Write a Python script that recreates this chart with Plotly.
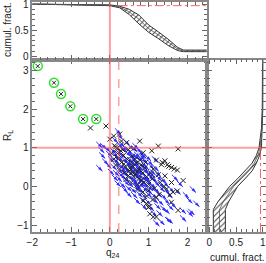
import plotly.graph_objects as go

W, H = 266, 263

# ---------------- data ----------------
# green-circled sources (q24, R_L)
green_x = [-1.86, -1.44, -1.26, -1.02, -0.69, -0.35]
green_y = [3.11, 2.68, 2.39, 2.07, 1.74, 1.74]

# black crosses (q24, R_L)
black_x = [-0.50, -0.10, 0.00, 0.10, 0.25, 0.30, 0.43, 0.77, 1.25, 1.76, 1.08, 0.86,
           1.20, 1.42, 1.48, 1.59, 1.74, 1.33, 1.89, 1.59, 1.46, 1.74, 1.27, 0.86,
           0.94, 1.03, 1.20, 1.55, 1.76, 1.03, 1.20, 1.42, 1.40, 1.63, 1.59, 0.99,
           1.12, 0.20, 0.35, 0.45, 0.55, 0.65, 0.30, 0.40, 0.50, 0.60, 0.70, 0.80,
           0.75, 0.85, 0.95, 0.62, 0.55, 0.72, 0.88, 1.00, 1.10, 0.48, 0.38, 0.25,
           0.15, 0.10, 0.05, 0.68, 0.90, 1.05, 1.00, 0.85, 0.70, 1.15, 0.58, 0.78,
           0.92, 0.33, 0.48, 0.62, 0.12, 1.25, 1.12, 0.95, 1.10, 0.18, 0.22, 0.52,
           0.66, 0.74, 0.82, 0.58, 0.42, 0.36, 1.35, 1.52, 1.66, 1.30, 0.15, 0.28]
black_y = [1.51, 1.56, 1.22, 1.30, 1.35, 1.17, 1.13, 1.17, 1.04, 0.97, 0.92, 0.87,
           0.68, 0.66, 0.56, 0.49, 0.42, 0.56, 0.15, 0.10, -0.07, -0.12, -0.21, -0.37,
           -0.45, -0.52, -0.28, -0.22, -0.62, -0.71, -0.79, 0.27, 0.00, -0.15, -0.41, -0.54,
           -0.79, 0.85, 0.80, 0.70, 0.62, 0.70, 0.62, 0.50, 0.40, 0.52, 0.38, 0.55,
           0.20, 0.35, 0.25, 0.25, 0.10, 0.05, 0.10, 0.05, 0.20, 0.28, 0.35, 0.45,
           0.55, 0.70, 0.85, 0.60, 0.48, 0.35, -0.10, -0.15, -0.08, -0.05, 0.78, 0.68,
           0.62, 0.95, 0.95, 0.98, 1.05, 0.30, 0.45, -0.25, -0.35, 0.98, 0.72, 0.48,
           0.32, 0.44, 0.16, 0.36, 0.18, 0.58, 0.62, 0.52, 0.45, 0.10, 1.02, 0.92]

# blue upper-limit arrows (q24, R_L) of the arrow tails
blue_x = [0.13, 0.17, 0.05, -0.35, -0.25, 0.22, 0.35, 0.45, -0.30, -0.15, 0.00, 0.10,
          0.28, 0.55, -0.28, -0.10, 0.05, 0.15, 0.25, 0.38, 0.48, 0.62, 0.72, -0.20,
          -0.05, 0.08, 0.18, 0.30, 0.40, 0.52, 0.60, 0.70, 0.82, 0.95, -0.35, -0.12,
          0.02, 0.12, 0.22, 0.33, 0.42, 0.50, 0.58, 0.66, 0.75, 0.85, 0.98, 1.10,
          -0.05, 0.08, 0.18, 0.28, 0.36, 0.45, 0.52, 0.60, 0.68, 0.76, 0.84, 0.92,
          1.02, 1.15, 0.05, 0.15, 0.25, 0.35, 0.44, 0.53, 0.62, 0.70, 0.78, 0.88,
          0.97, 1.06, 1.18, 1.30, 0.12, 0.24, 0.34, 0.45, 0.55, 0.64, 0.74, 0.83,
          0.92, 1.02, 1.12, 1.24, 1.36, 0.30, 0.40, 0.52, 0.62, 0.72, 0.82, 0.92,
          1.02, 1.12, 1.25, 1.38, 1.50, 2.06, 0.40, 0.55, 0.68, 0.80, 0.92, 1.05,
          1.18, 1.30, 1.45, 0.62, 0.76, 0.90, 1.08, 1.22, 1.38, 1.97, 2.15, 0.80,
          0.98, 1.15, 1.30, 1.48, 1.05, 1.20, 1.38, 1.80, 1.98, 2.02, 1.12, 1.46,
          1.42, 1.25, 1.81, 0.46, 0.56, 0.66, 0.38, 0.48, 0.58, 0.68, 0.78, 0.56,
          0.64, 0.72, 0.86, 0.50, 0.60, 0.70, 0.80, 0.90, 0.44, 0.54, 0.74, 0.84,
          0.32, 0.26, 0.94, 1.00, 0.20, 0.10, 1.60, 1.72, 1.55, 1.66, 1.88, 0.58,
          0.18, 0.30, 0.42, 0.66, 0.78, 0.90, 1.08]
blue_y = [1.50, 1.38, 1.28, 1.15, 1.12, 1.18, 1.22, 1.10, 1.02, 1.05, 1.00, 1.08,
          1.03, 1.05, 0.88, 0.92, 0.90, 0.95, 0.88, 0.93, 0.86, 0.90, 0.95, 0.72,
          0.78, 0.74, 0.80, 0.76, 0.70, 0.78, 0.72, 0.80, 0.74, 0.70, 0.55, 0.62,
          0.58, 0.64, 0.60, 0.55, 0.63, 0.58, 0.65, 0.55, 0.62, 0.58, 0.60, 0.55,
          0.45, 0.42, 0.48, 0.44, 0.50, 0.42, 0.47, 0.40, 0.48, 0.42, 0.47, 0.40,
          0.45, 0.42, 0.30, 0.28, 0.33, 0.26, 0.31, 0.27, 0.33, 0.25, 0.30, 0.27,
          0.32, 0.26, 0.30, 0.24, 0.15, 0.12, 0.18, 0.13, 0.17, 0.10, 0.15, 0.12,
          0.18, 0.11, 0.16, 0.12, 0.14, 0.00, 0.03, -0.02, 0.04, -0.03, 0.02, -0.04,
          0.03, -0.02, 0.02, -0.03, 0.00, 0.00, -0.12, -0.15, -0.12, -0.17, -0.13, -0.16,
          -0.12, -0.18, -0.14, -0.30, -0.27, -0.32, -0.28, -0.33, -0.30, -0.28, -0.37, -0.45,
          -0.48, -0.44, -0.50, -0.46, -0.62, -0.62, -0.55, -0.55, -0.62, -0.58, -0.87, -0.80,
          -0.79, -0.84, -0.75, 0.52, 0.38, 0.46, 0.66, 0.58, 0.50, 0.36, 0.20, 0.22,
          0.05, 0.12, 0.30, 0.68, 0.84, 0.56, 0.64, 0.22, 0.76, 0.88, 0.86, 0.50,
          0.40, 0.52, 0.05, 0.38, 0.38, 0.82, 0.30, 0.15, -0.40, -0.05, -0.15, 1.12,
          1.14, 1.08, 0.98, 1.02, 0.88, 0.82, 0.78]

# top panel: cumulative fraction of q24 (band envelope)
top_q = [-2.0, -1.0, -0.5, 0.0, 0.25, 0.5, 0.75, 1.0, 1.25, 1.5, 1.75, 1.9, 2.5]
top_hi = [1.0, 0.998, 0.995, 0.985, 0.96, 0.90, 0.79, 0.60, 0.47, 0.33, 0.17, 0.12, 0.12]
top_mid = [1.0, 0.995, 0.99, 0.978, 0.945, 0.85, 0.71, 0.53, 0.41, 0.27, 0.14, 0.105, 0.105]
top_lo = [1.0, 0.99, 0.985, 0.97, 0.93, 0.80, 0.62, 0.46, 0.34, 0.21, 0.11, 0.09, 0.09]

# right panel: cumulative fraction of R_L (band envelope)
rt_R = [-1.18, -0.6, -0.4, -0.2, 0.0, 0.2, 0.4, 0.6, 0.8, 1.0, 1.5, 2.0, 3.28]
rt_lo = [0.075, 0.075, 0.16, 0.27, 0.38, 0.53, 0.67, 0.80, 0.88, 0.93, 0.975, 0.99, 0.995]
rt_hi = [0.30, 0.30, 0.36, 0.44, 0.53, 0.67, 0.80, 0.88, 0.94, 0.975, 0.99, 1.0, 1.0]
rt_mid = [0.19, 0.19, 0.26, 0.355, 0.455, 0.60, 0.735, 0.84, 0.91, 0.952, 0.982, 0.995, 0.998]

q_cut = 0.23      # dashed vertical
frac_top = 0.97   # dash-dot level, top panel
frac_rt = 0.957   # dash-dot level, right panel

# ---------------- figure ----------------
def px_x(p):
    return p / W

def px_y(p):
    return 1 - p / H

xd = [px_x(32.3), px_x(206.8)]
yd = [px_y(232), px_y(59.5)]
yd2 = [px_y(59.5), px_y(2)]
xd3 = [px_x(206.8), 1.0]

fig = go.Figure()

arrow_len = 0.16
seg_x, seg_y = [], []
for x, y in zip(blue_x, blue_y):
    seg_x += [x, x + arrow_len, None]
    seg_y += [y, y - arrow_len, None]
blue_col = "rgb(45,45,255)"
fig.add_trace(go.Scatter(x=seg_x, y=seg_y, mode="lines",
                         line=dict(color=blue_col, width=1), hoverinfo="skip",
                         showlegend=False, xaxis="x", yaxis="y"))
fig.add_trace(go.Scatter(x=[x + arrow_len for x in blue_x],
                         y=[y - arrow_len for y in blue_y], mode="markers",
                         marker=dict(symbol="arrow", angle=135, size=5, color=blue_col,
                                     line=dict(width=0)),
                         showlegend=False, xaxis="x", yaxis="y"))

fig.add_trace(go.Scatter(x=black_x, y=black_y, mode="markers",
                         marker=dict(symbol="x-thin-open", size=5, color="#222",
                                     line=dict(width=1, color="#222")),
                         showlegend=False, xaxis="x", yaxis="y"))
fig.add_trace(go.Scatter(x=green_x, y=green_y, mode="markers",
                         marker=dict(symbol="circle-open", size=9, color="#2ee02e",
                                     line=dict(width=1.5, color="#2ee02e")),
                         showlegend=False, xaxis="x", yaxis="y"))
fig.add_trace(go.Scatter(x=green_x, y=green_y, mode="markers",
                         marker=dict(symbol="x-thin-open", size=4, color="#222",
                                     line=dict(width=1, color="#222")),
                         showlegend=False, xaxis="x", yaxis="y"))

# top band
band_line = dict(color="#333", width=1)
fig.add_trace(go.Scatter(x=top_q, y=top_lo, mode="lines", line=band_line,
                         showlegend=False, xaxis="x2", yaxis="y2"))
fig.add_trace(go.Scatter(x=top_q, y=top_hi, mode="lines", line=band_line, fill="tonexty",
                         fillcolor="rgba(0,0,0,0)",
                         fillpattern=dict(shape="/", fgcolor="#444", size=4, solidity=0.25),
                         showlegend=False, xaxis="x2", yaxis="y2"))
fig.add_trace(go.Scatter(x=top_q, y=top_mid, mode="lines", line=dict(color="#555", width=0.8),
                         showlegend=False, xaxis="x2", yaxis="y2"))

# right band
fig.add_trace(go.Scatter(x=rt_lo, y=rt_R, mode="lines", line=band_line,
                         showlegend=False, xaxis="x3", yaxis="y3"))
fig.add_trace(go.Scatter(x=rt_hi, y=rt_R, mode="lines", line=band_line, fill="tonextx",
                         fillcolor="rgba(0,0,0,0)",
                         fillpattern=dict(shape="/", fgcolor="#444", size=4, solidity=0.25),
                         showlegend=False, xaxis="x3", yaxis="y3"))
fig.add_trace(go.Scatter(x=rt_mid, y=rt_R, mode="lines", line=dict(color="#555", width=0.8),
                         showlegend=False, xaxis="x3", yaxis="y3"))

red_soft = "rgba(255,80,80,0.55)"
shapes = [
    dict(type="line", xref="x", yref="paper", x0=0, x1=0, y0=yd[0], y1=yd2[1],
         line=dict(color=red_soft, width=2)),
    dict(type="line", xref="paper", yref="y", x0=xd[0], x1=1, y0=1, y1=1,
         line=dict(color=red_soft, width=2)),
    dict(type="line", xref="x", yref="y", x0=q_cut, x1=q_cut, y0=-1.18, y1=3.28,
         line=dict(color=red_soft, width=1.5, dash="dash")),
    dict(type="line", xref="x2", yref="y2", x0=q_cut, x1=2.5, y0=frac_top, y1=frac_top,
         line=dict(color="rgba(255,60,60,0.8)", width=1, dash="dashdot")),
    dict(type="line", xref="x3", yref="y3", x0=frac_rt, x1=frac_rt, y0=-1.18, y1=1,
         line=dict(color="rgba(255,60,60,0.8)", width=1, dash="dashdot")),
]

tickfont = dict(family="Liberation Sans", size=10, color="#222")
common = dict(showline=True, linecolor="#888", linewidth=1.5, mirror="ticks",
              ticks="inside", ticklen=5, tickcolor="#666", tickwidth=1,
              showgrid=False, zeroline=False, tickfont=tickfont,
              ticklabeloverflow="allow")

fig.update_layout(
    width=W, height=H, margin=dict(l=0, r=0, t=0, b=0),
    template="none", plot_bgcolor="white", paper_bgcolor="white",
    showlegend=False, shapes=shapes,
    xaxis=dict(domain=xd, range=[-2, 2.5], anchor="y", tickvals=[-2, -1, 0, 1, 2],
               ticktext=["\u22122", "\u22121", "0", "1", "2"],
               minor=dict(dtick=0.2, ticks="inside", ticklen=3, tickcolor="#666"), **common),
    yaxis=dict(domain=yd, range=[-1.18, 3.28], anchor="x", tickvals=[-1, 0, 1, 2, 3],
               ticktext=["\u22121", "0", "1", "2", "3"],
               minor=dict(dtick=0.2, ticks="inside", ticklen=3, tickcolor="#666"), **common),
    xaxis2=dict(domain=xd, range=[-2, 2.5], anchor="y2", matches="x", showticklabels=False,
                dtick=1, minor=dict(dtick=0.2, ticks="inside", ticklen=3, tickcolor="#666"),
                **common),
    yaxis2=dict(domain=yd2, range=[-0.06, 1.04], anchor="x2", tickvals=[0, 0.5, 1],
                ticktext=["0", "0.5", "1"],
                minor=dict(dtick=0.1, ticks="inside", ticklen=3, tickcolor="#666"), **common),
    xaxis3=dict(domain=xd3, range=[-0.047, 1.06], anchor="y3", tickvals=[0, 0.5, 1],
                ticktext=["0", "0.5", "1"],
                minor=dict(dtick=0.1, ticks="inside", ticklen=3, tickcolor="#666"), **common),
    yaxis3=dict(domain=yd, range=[-1.18, 3.28], anchor="x3", matches="y",
                showticklabels=False, dtick=1,
                minor=dict(dtick=0.2, ticks="inside", ticklen=3, tickcolor="#666"), **common),
)

labfont = dict(family="Liberation Sans", size=10, color="#222")
ann = dict(xref="paper", yref="paper", showarrow=False, font=labfont,
           xanchor="center", yanchor="middle")
fig.add_annotation(x=px_x(8), y=px_y(30), text="cumul. fract.", textangle=-90, **ann)
fig.add_annotation(x=px_x(8), y=px_y(136), text="R<sub>L</sub>", textangle=-90, **ann)
fig.add_annotation(x=px_x(112), y=px_y(253), text="q<sub>24</sub>", **ann)
fig.add_annotation(x=px_x(237), y=px_y(257), text="cumul. fract.", **ann)

fig.write_html("out.html", config={"displayModeBar": False},
               post_script="document.body.style.margin='0';document.body.style.overflow='hidden';")
